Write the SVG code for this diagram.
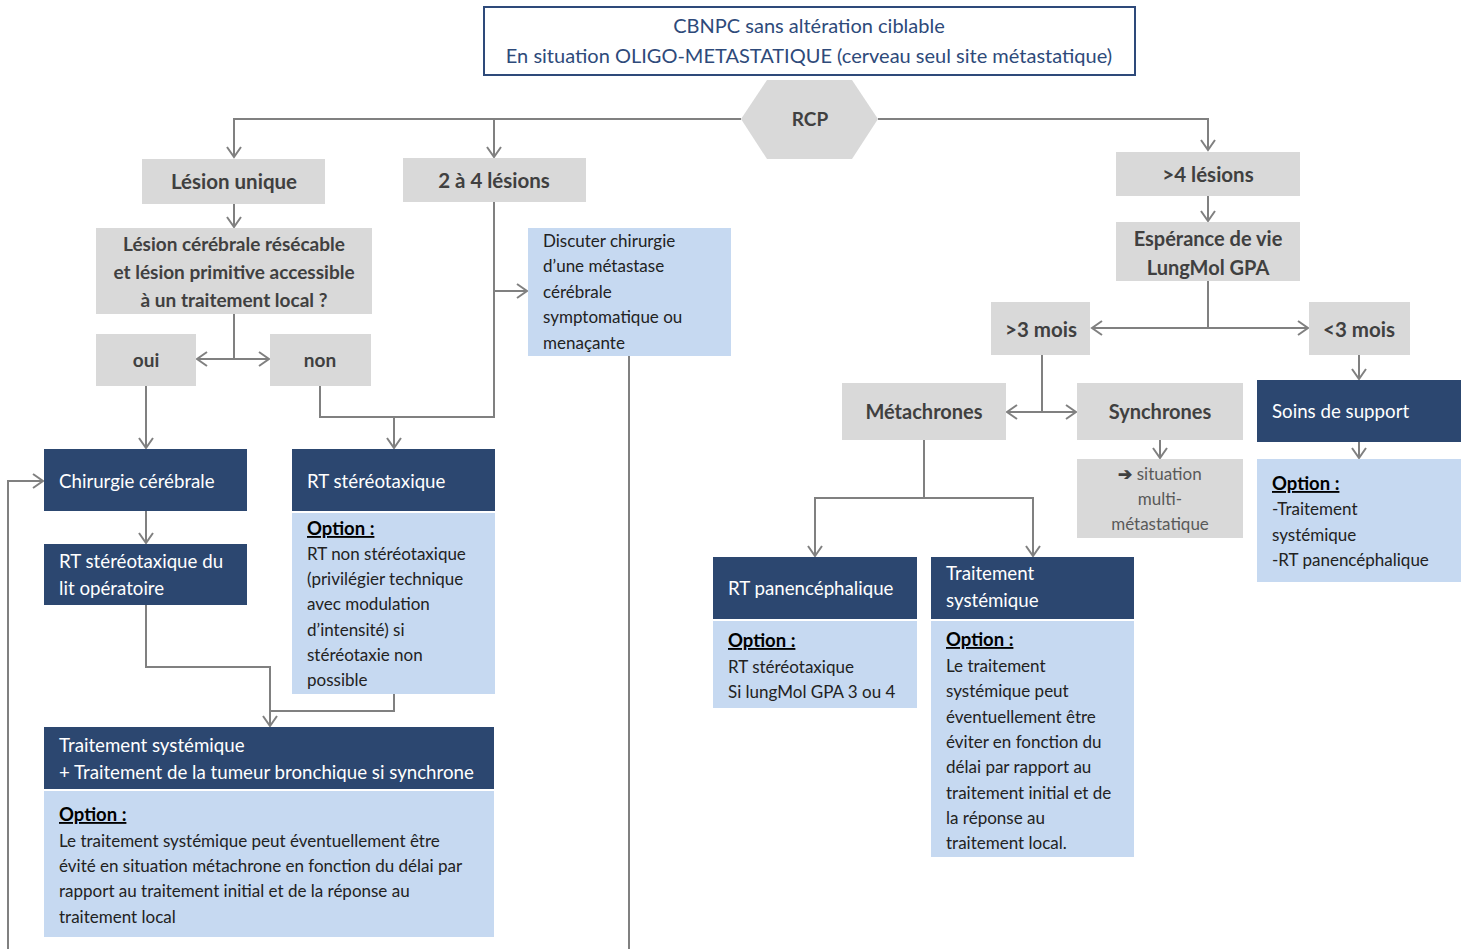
<svg xmlns="http://www.w3.org/2000/svg" width="1469" height="949" viewBox="0 0 1469 949">
<style>
text{font-family:Lato,"Liberation Sans",sans-serif}
.g{fill:#D9D9D9}
.d{fill:#2C4770}
.l{fill:#C6D9F1}
.gt{font-size:20.5px;font-weight:bold;fill:#404040;text-anchor:middle}
.gs{font-size:19px;font-weight:bold;fill:#404040;text-anchor:middle}
.gm{font-size:20px;font-weight:bold;fill:#404040;text-anchor:middle}
.wt{font-size:18.7px;fill:#fff}
.bt{font-size:17px;fill:#222}
.op{font-size:18.5px;font-weight:bold;fill:#000;text-decoration:underline}
.st{font-size:17px;fill:#595959;text-anchor:middle}
.c{fill:none;stroke:#808080;stroke-width:2}
</style>
<defs>
<marker id="a" markerUnits="userSpaceOnUse" markerWidth="14" markerHeight="16" refX="11" refY="8" orient="auto">
<path d="M1,1 L11,8 L1,15" fill="none" stroke="#808080" stroke-width="2"/>
</marker>
</defs>
<rect width="1469" height="949" fill="#fff"/>

<g id="connectors">
<path class="c" d="M741,119 H234 V157" marker-end="url(#a)"/>
<path class="c" d="M494,119 V157" marker-end="url(#a)"/>
<path class="c" d="M878,119 H1208 V150" marker-end="url(#a)"/>
<path class="c" d="M234,204 V227" marker-end="url(#a)"/>
<path class="c" d="M234,314 V359 H197" marker-end="url(#a)"/>
<path class="c" d="M234,359 H269" marker-end="url(#a)"/>
<path class="c" d="M146,386 V448" marker-end="url(#a)"/>
<path class="c" d="M320,386 V417 H494 V202"/>
<path class="c" d="M394,417 V448" marker-end="url(#a)"/>
<path class="c" d="M494,291 H527" marker-end="url(#a)"/>
<path class="c" d="M629,356 V949"/>
<path class="c" d="M8,949 V481 H43" marker-end="url(#a)"/>
<path class="c" d="M146,511 V543" marker-end="url(#a)"/>
<path class="c" d="M146,605 V667 H270 V726" marker-end="url(#a)"/>
<path class="c" d="M394,694 V711 H270"/>
<path class="c" d="M1208,196 V221" marker-end="url(#a)"/>
<path class="c" d="M1208,281 V328 H1092" marker-end="url(#a)"/>
<path class="c" d="M1208,328 H1308" marker-end="url(#a)"/>
<path class="c" d="M1042,355 V412 H1007" marker-end="url(#a)"/>
<path class="c" d="M1042,412 H1076" marker-end="url(#a)"/>
<path class="c" d="M1160,440 V458" marker-end="url(#a)"/>
<path class="c" d="M1359,355 V379" marker-end="url(#a)"/>
<path class="c" d="M1359,442 V458" marker-end="url(#a)"/>
<path class="c" d="M924,440 V498 H815 V556" marker-end="url(#a)"/>
<path class="c" d="M924,498 H1033 V556" marker-end="url(#a)"/>
</g>

<g id="title">
<rect x="484" y="7" width="651" height="68" fill="#fff" stroke="#2E4A7A" stroke-width="2"/>
<text x="809" y="33" font-size="20" fill="#2E4A7A" text-anchor="middle">CBNPC sans altération ciblable</text>
<text x="809" y="63" font-size="20" fill="#2E4A7A" text-anchor="middle">En situation OLIGO-METASTATIQUE (cerveau seul site métastatique)</text>
</g>

<g id="rcp">
<polygon class="g" points="741,119 767,80 852,80 878,119 852,159 767,159"/>
<text x="810" y="126" class="gs">RCP</text>
</g>

<g id="lesion-unique">
<rect class="g" x="142" y="159" width="183" height="45"/>
<text x="234" y="189" class="gt">Lésion unique</text>
</g>

<g id="deux-a-quatre">
<rect class="g" x="403" y="158" width="183" height="44"/>
<text x="494" y="188" class="gt">2 à 4 lésions</text>
</g>

<g id="resecable">
<rect class="g" x="96" y="228" width="276" height="86"/>
<text x="234" y="251" class="gs">Lésion cérébrale résécable</text>
<text x="234" y="279" class="gs">et lésion primitive accessible</text>
<text x="234" y="307" class="gs">à un traitement local ?</text>
</g>

<g id="oui">
<rect class="g" x="96" y="334" width="100" height="52"/>
<text x="146" y="367" class="gs">oui</text>
</g>

<g id="non">
<rect class="g" x="270" y="334" width="101" height="52"/>
<text x="320" y="367" class="gs">non</text>
</g>

<g id="discuter">
<rect class="l" x="528" y="228" width="203" height="128"/>
<text class="bt" x="543" y="247">Discuter chirurgie</text>
<text class="bt" x="543" y="272">d’une métastase</text>
<text class="bt" x="543" y="298">cérébrale</text>
<text class="bt" x="543" y="323">symptomatique ou</text>
<text class="bt" x="543" y="349">menaçante</text>
</g>

<g id="chirurgie">
<rect class="d" x="44" y="449" width="203" height="62"/>
<text class="wt" x="59" y="488">Chirurgie cérébrale</text>
</g>

<g id="rt-stereo">
<rect class="d" x="292" y="449" width="203" height="62"/>
<text class="wt" x="307" y="488">RT stéréotaxique</text>
<rect class="l" x="292" y="513" width="203" height="181"/>
<text class="op" x="307" y="535">Option :</text>
<text class="bt" x="307" y="560">RT non stéréotaxique</text>
<text class="bt" x="307" y="585">(privilégier technique</text>
<text class="bt" x="307" y="610">avec modulation</text>
<text class="bt" x="307" y="636">d’intensité) si</text>
<text class="bt" x="307" y="661">stéréotaxie non</text>
<text class="bt" x="307" y="686">possible</text>
</g>

<g id="rt-lit">
<rect class="d" x="44" y="544" width="203" height="61"/>
<text class="wt" x="59" y="568">RT stéréotaxique du</text>
<text class="wt" x="59" y="595">lit opératoire</text>
</g>

<g id="traitement-systemique-gauche">
<rect class="d" x="44" y="727" width="450" height="62"/>
<text class="wt" x="59" y="752">Traitement systémique</text>
<text class="wt" x="59" y="779">+ Traitement de la tumeur bronchique si synchrone</text>
<rect class="l" x="44" y="791" width="450" height="146"/>
<text class="op" x="59" y="821">Option :</text>
<text class="bt" x="59" y="847">Le traitement systémique peut éventuellement être</text>
<text class="bt" x="59" y="872">évité en situation métachrone en fonction du délai par</text>
<text class="bt" x="59" y="897">rapport au traitement initial et de la réponse au</text>
<text class="bt" x="59" y="923">traitement local</text>
</g>

<g id="plus-4">
<rect class="g" x="1116" y="152" width="184" height="44"/>
<text x="1208" y="182" class="gt">&gt;4 lésions</text>
</g>

<g id="esperance">
<rect class="g" x="1116" y="222" width="184" height="59"/>
<text x="1208" y="246" class="gm">Espérance de vie</text>
<text x="1208" y="275" class="gm">LungMol GPA</text>
</g>

<g id="plus-3-mois">
<rect class="g" x="991" y="302" width="99" height="53"/>
<text x="1041" y="337" class="gt">&gt;3 mois</text>
</g>

<g id="moins-3-mois">
<rect class="g" x="1309" y="302" width="101" height="53"/>
<text x="1359" y="337" class="gt">&lt;3 mois</text>
</g>

<g id="metachrones">
<rect class="g" x="842" y="383" width="164" height="57"/>
<text x="924" y="419" class="gm">Métachrones</text>
</g>

<g id="synchrones">
<rect class="g" x="1077" y="383" width="166" height="57"/>
<text x="1160" y="419" class="gm">Synchrones</text>
</g>

<g id="situation">
<rect class="g" x="1077" y="459" width="166" height="79"/>
<text x="1160" y="480" class="st"><tspan font-weight="bold" fill="#404040">➔</tspan> situation</text>
<text x="1160" y="505" class="st">multi-</text>
<text x="1160" y="530" class="st">métastatique</text>
</g>

<g id="soins">
<rect class="d" x="1257" y="380" width="204" height="62"/>
<text class="wt" x="1272" y="418">Soins de support</text>
<rect class="l" x="1257" y="459" width="204" height="123"/>
<text class="op" x="1272" y="490">Option :</text>
<text class="bt" x="1272" y="515">-Traitement</text>
<text class="bt" x="1272" y="541">systémique</text>
<text class="bt" x="1272" y="566">-RT panencéphalique</text>
</g>

<g id="rt-panencephalique">
<rect class="d" x="713" y="557" width="204" height="62"/>
<text class="wt" x="728" y="595">RT panencéphalique</text>
<rect class="l" x="713" y="621" width="204" height="87"/>
<text class="op" x="728" y="647">Option :</text>
<text class="bt" x="728" y="673">RT stéréotaxique</text>
<text class="bt" x="728" y="698">Si lungMol GPA 3 ou 4</text>
</g>

<g id="traitement-systemique-droite">
<rect class="d" x="931" y="557" width="203" height="62"/>
<text class="wt" x="946" y="580">Traitement</text>
<text class="wt" x="946" y="607">systémique</text>
<rect class="l" x="931" y="621" width="203" height="236"/>
<text class="op" x="946" y="646">Option :</text>
<text class="bt" x="946" y="672">Le traitement</text>
<text class="bt" x="946" y="697">systémique peut</text>
<text class="bt" x="946" y="723">éventuellement être</text>
<text class="bt" x="946" y="748">éviter en fonction du</text>
<text class="bt" x="946" y="773">délai par rapport au</text>
<text class="bt" x="946" y="799">traitement initial et de</text>
<text class="bt" x="946" y="824">la réponse au</text>
<text class="bt" x="946" y="849">traitement local.</text>
</g>
</svg>
